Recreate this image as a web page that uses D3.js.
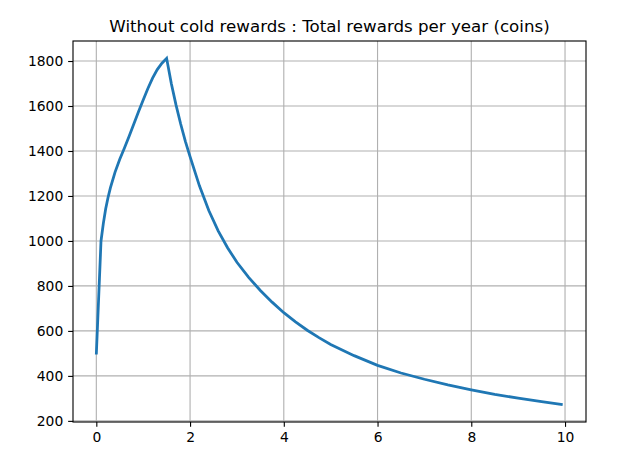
<!DOCTYPE html>
<html>
<head>
<meta charset="utf-8">
<script src="https://cdn.jsdelivr.net/npm/d3@7"></script>
<style>
  html, body { margin: 0; padding: 0; background: #fff; }
  svg { display: block; }
  text { font-family: "DejaVu Sans", sans-serif; fill: #000; }
</style>
</head>
<body>
<script>
// ---- data ----
const chartTitle = "Without cold rewards : Total rewards per year (coins)";
const years = [0, 0.1, 0.15, 0.2, 0.25, 0.3, 0.4, 0.5, 0.6, 0.7, 0.8, 0.9, 1.0, 1.1, 1.2, 1.3, 1.4, 1.5,
  1.6, 1.7, 1.8, 1.9, 2.0, 2.2, 2.4, 2.6, 2.8, 3.0, 3.25, 3.5, 3.75, 4.0,
  4.25, 4.5, 4.75, 5.0, 5.5, 6.0, 6.5, 7.0, 7.5, 8.0, 8.5, 9.0, 9.5, 9.95];
const rewards = [495, 1000, 1078, 1143, 1193, 1236, 1306, 1363, 1413, 1466, 1520, 1574, 1627, 1678, 1724, 1762, 1790, 1812,
  1700, 1605, 1520, 1443, 1375, 1245, 1135, 1045, 970, 905, 838, 780, 728, 681,
  640, 603, 570, 540, 490, 447, 413, 385, 360, 338, 318, 301, 286, 272];
const xTicks = [0, 2, 4, 6, 8, 10];
const yTicks = [200, 400, 600, 800, 1000, 1200, 1400, 1600, 1800];

(function () {
// ---- layout ----
const W = 640, H = 462;
const mLeft = 73, mRight = 586, mTop = 41, mBottom = 422;
const ptPx = 100 / 72;

const svg = d3.select("body").append("svg").attr("width", W).attr("height", H);

// matplotlib-like 5% margins
const xExt = d3.extent(years), yExt = d3.extent(rewards);
const xPad = (xExt[1] - xExt[0]) * 0.05, yPad = (yExt[1] - yExt[0]) * 0.05;
const x = d3.scaleLinear().domain([xExt[0] - xPad, xExt[1] + xPad]).range([mLeft, mRight]);
const y = d3.scaleLinear().domain([yExt[0] - yPad, yExt[1] + yPad]).range([mBottom, mTop]);

const gridColor = "#b0b0b0";
const lw = 0.8 * ptPx;

// grid
const grid = svg.append("g");
grid.selectAll(".gx").data(xTicks).enter().append("line")
  .attr("x1", d => x(d)).attr("x2", d => x(d)).attr("y1", mTop).attr("y2", mBottom)
  .attr("stroke", gridColor).attr("stroke-width", lw);
grid.selectAll(".gy").data(yTicks).enter().append("line")
  .attr("x1", mLeft).attr("x2", mRight).attr("y1", d => y(d)).attr("y2", d => y(d))
  .attr("stroke", gridColor).attr("stroke-width", lw);

// line
const line = d3.line().x((d, i) => x(years[i])).y(d => y(d));
svg.append("path").datum(rewards)
  .attr("d", line)
  .attr("fill", "none")
  .attr("stroke", "#1f77b4")
  .attr("stroke-width", 2.0 * ptPx)
  .attr("stroke-linejoin", "miter")
  .attr("stroke-linecap", "butt");

// axes
const tickLen = 3.5 * ptPx, tickPad = 3.5 * ptPx;
const fontPx = 10 * ptPx;

const xAxis = d3.axisBottom(x).tickValues(xTicks).tickSize(tickLen).tickPadding(tickPad).tickFormat(d3.format("d"));
const yAxis = d3.axisLeft(y).tickValues(yTicks).tickSize(tickLen).tickPadding(tickPad).tickFormat(d3.format("d"));

const gx = svg.append("g").attr("transform", `translate(0,${mBottom})`).call(xAxis);
const gy = svg.append("g").attr("transform", `translate(${mLeft},0)`).call(yAxis);
[gx, gy].forEach(g => {
  g.select(".domain").remove();
  g.selectAll(".tick line").attr("stroke", "#000").attr("stroke-width", lw);
  g.selectAll(".tick text").style("font-family", "'DejaVu Sans', sans-serif")
    .style("font-size", fontPx + "px").attr("fill", "#000");
});

// spines
svg.append("rect").attr("x", mLeft).attr("y", mTop)
  .attr("width", mRight - mLeft).attr("height", mBottom - mTop)
  .attr("fill", "none").attr("stroke", "#000").attr("stroke-width", lw);

// title
svg.append("text")
  .attr("x", (mLeft + mRight) / 2).attr("y", 32)
  .attr("text-anchor", "middle")
  .style("font-size", (12 * ptPx) + "px")
  .text(chartTitle);
})();
</script>
</body>
</html>
